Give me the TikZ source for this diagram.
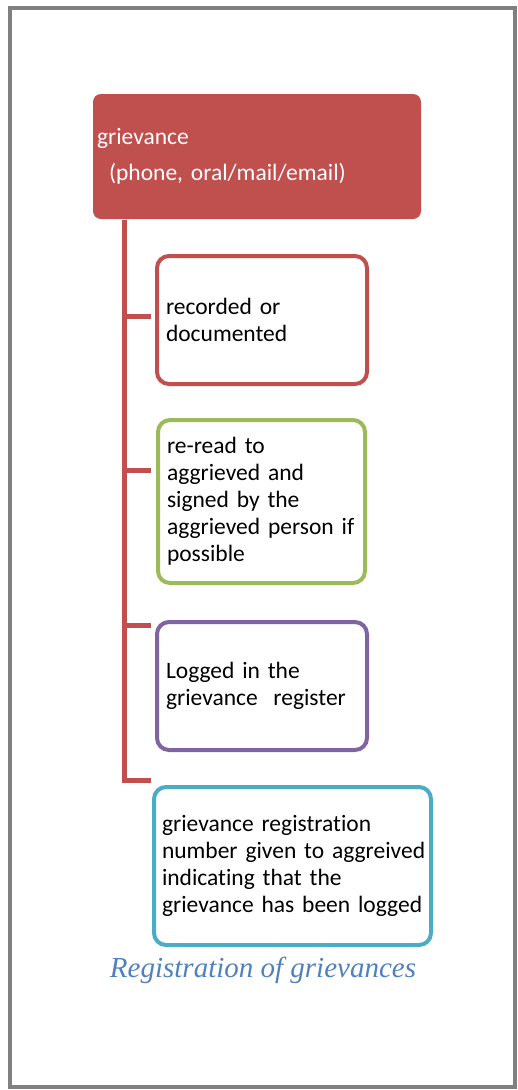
\documentclass[tikz,border=0pt]{standalone}
\usepackage{fontspec}
\setmainfont{Carlito}[Ligatures=NoCommon, WordSpace=0.85]
\newfontfamily\capfont{Liberation Serif}
\definecolor{accred}{HTML}{C0504D}
\definecolor{accgreen}{HTML}{9BBB59}
\definecolor{accpurple}{HTML}{8064A2}
\definecolor{accteal}{HTML}{4BACC6}
\definecolor{capblue}{HTML}{4F81BD}
\definecolor{framegray}{HTML}{808080}
\begin{document}
\begin{tikzpicture}[x=1pt,y=-1pt,
  bodytext/.style={font=\fontsize{23.5}{27}\selectfont, align=left},
  topbox/.style={fill=accred, draw=none, rounded corners=8pt, text=white,
    anchor=north west, inner xsep=4pt, inner ysep=0pt, outer sep=0pt,
    font=\fontsize{23.5}{36}\selectfont, align=left},
  stepbox/.style={draw=#1, line width=4pt, rounded corners=12pt, fill=white,
    anchor=north west, inner xsep=9pt, inner ysep=0pt, outer sep=0pt,
    bodytext},
  conn/.style={draw=accred, line width=5pt, line cap=rect},
]
\useasboundingbox (0,0) rectangle (517,1090);

% page frame
\draw[framegray, line width=4pt] (10,8) rectangle (515,1087);

% source box
\node[topbox, minimum width=328pt, minimum height=125pt, text width=320pt]
  (src) at (93,94) {\mbox{grievance}\\\mbox{\hspace*{12pt}(phone, oral/mail/email)}};

% process steps
\node[stepbox=accred, minimum width=210pt, minimum height=128pt, text width=192pt]
  (rec) at (157,256) {\mbox{recorded or}\\\mbox{documented}};
\node[stepbox=accgreen, minimum width=207pt, minimum height=163pt, text width=189pt]
  (read) at (158,420) {\mbox{re-read to}\\\mbox{aggrieved and}\\\mbox{signed by the}\\\mbox{aggrieved person if}\\\mbox{possible}};
\node[stepbox=accpurple, minimum width=210pt, minimum height=128pt, text width=192pt]
  (log) at (157,622) {\mbox{Logged in the}\\\mbox{grievance\ \ register}};
\node[stepbox=accteal, minimum width=277pt, minimum height=158pt, text width=261pt, inner xsep=8pt]
  (num) at (154,787) {\mbox{grievance registration}\\\mbox{number given to aggreived}\\\mbox{indicating that the}\\\mbox{grievance has been logged}};

% bracket connector
\coordinate (trunk) at (124.5,222);
\coordinate (s1) at (148,316);
\coordinate (s2) at (148,470);
\coordinate (s3) at (148,625);
\coordinate (s4) at (148,780);
\draw[conn] (trunk) |- (s4);
\draw[conn] (trunk |- s1) -- (s1);
\draw[conn] (trunk |- s2) -- (s2);
\draw[conn] (trunk |- s3) -- (s3);

% caption
\node[anchor=base, text=capblue, font=\capfont\itshape\fontsize{29}{33}\selectfont, inner sep=0pt]
  (cap) at (263,977) {Registration of grievances};
\end{tikzpicture}
\end{document}
